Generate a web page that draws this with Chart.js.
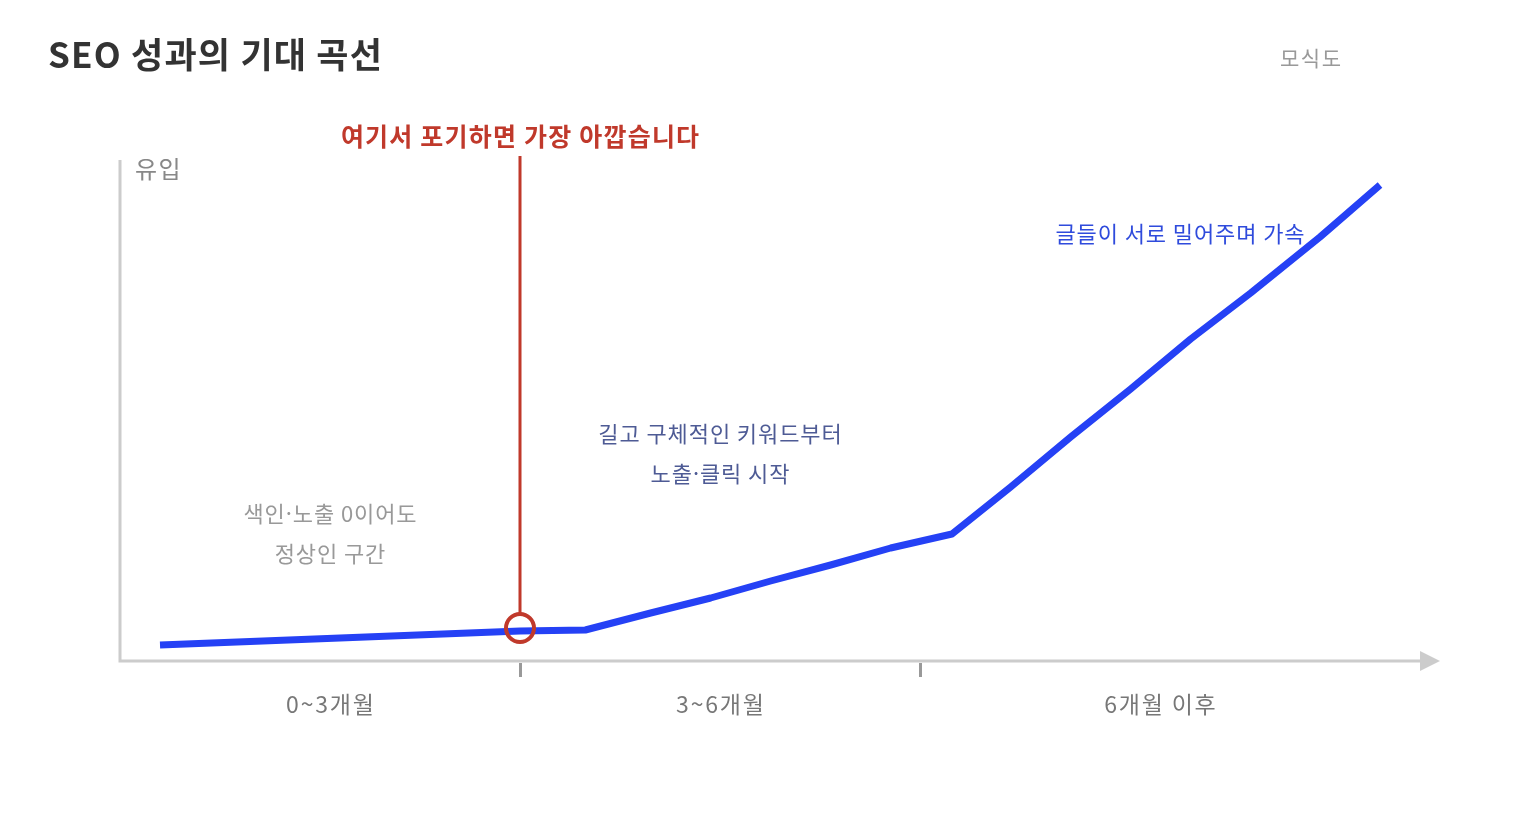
<!DOCTYPE html>
<html lang="ko">
<head>
<meta charset="utf-8">
<title>SEO 성과의 기대 곡선</title>
<script src="https://cdn.jsdelivr.net/npm/chart.js@4.4.1/dist/chart.umd.min.js"></script>
<style>
  html, body { margin: 0; padding: 0; background: #fff; }
  #wrap { position: relative; width: 1520px; height: 840px; }
</style>
</head>
<body>
<div id="wrap"><canvas id="chart" width="1520" height="840"></canvas></div>
<script>
// months since start (x) and relative inflow (y, 0-100)
const months = [0.3, 3.0, 3.49, 3.98, 4.43, 4.88, 5.33, 5.78, 6.24, 6.68, 7.13, 7.58, 8.03, 8.48, 9.0, 9.45];
const inflow = [3.2, 6.0, 6.2, 9.6, 12.6, 16.0, 19.2, 22.6, 25.4, 34.8, 44.8, 54.4, 64.4, 73.6, 84.8, 95.2];

const giveUpMonth = 3;
const giveUpInflow = 6.6;

const phaseLabels = ['0~3개월', '3~6개월', '6개월 이후'];
const phaseCenters = [1.575, 4.5, 7.8];
const phaseBounds = [3, 6];

const FONT = '"Noto Sans CJK KR", "Noto Sans", sans-serif';

function text(ctx, str, x, y, font, color, spacing) {
  ctx.font = font;
  ctx.fillStyle = color;
  ctx.letterSpacing = (spacing || 0) + 'px';
  const off = ctx.textAlign === 'center' ? (spacing || 0) / 2 : 0;
  ctx.fillText(str, x + off, y);
}

const overlay = {
  id: 'overlay',
  afterDraw(chart) {
    const ctx = chart.ctx;
    const x = chart.scales.x, y = chart.scales.y;
    const x0 = x.getPixelForValue(0), y0 = y.getPixelForValue(0);
    const right = chart.chartArea.right;
    ctx.save();

    // axes
    ctx.strokeStyle = '#cccccc';
    ctx.lineWidth = 3;
    ctx.beginPath();
    ctx.moveTo(x0, y.getPixelForValue(100) - 1);
    ctx.lineTo(x0, y0);
    ctx.lineTo(right - 18, y0);
    ctx.stroke();
    ctx.fillStyle = '#cccccc';
    ctx.beginPath();
    ctx.moveTo(right - 20, y0 - 10);
    ctx.lineTo(right, y0);
    ctx.lineTo(right - 20, y0 + 10);
    ctx.closePath();
    ctx.fill();

    // phase ticks
    ctx.strokeStyle = '#999999';
    phaseBounds.forEach(m => {
      const px = Math.round(x.getPixelForValue(m)) + 0.5;
      ctx.beginPath();
      ctx.moveTo(px, y0 + 2);
      ctx.lineTo(px, y0 + 16);
      ctx.stroke();
    });

    // phase labels
    ctx.textAlign = 'center';
    ctx.textBaseline = 'middle';
    phaseLabels.forEach((t, i) =>
      text(ctx, t, x.getPixelForValue(phaseCenters[i]), y0 + 43, '23px ' + FONT, '#777777', 1.8));

    // give-up line
    const gx = x.getPixelForValue(giveUpMonth);
    const gy = y.getPixelForValue(giveUpInflow);
    ctx.strokeStyle = '#c0392b';
    ctx.lineWidth = 3;
    ctx.beginPath();
    ctx.moveTo(gx, 156);
    ctx.lineTo(gx, gy - 15);
    ctx.stroke();
    text(ctx, '여기서 포기하면 가장 아깝습니다', gx, 136, 'bold 25px ' + FONT, '#c0392b', 1.2);

    // titles
    ctx.textAlign = 'left';
    text(ctx, 'SEO 성과의 기대 곡선', 48, 55, 'bold 35px ' + FONT, '#333333', 1.2);
    text(ctx, '모식도', 1280, 58, '21px ' + FONT, '#999999', 1.5);
    text(ctx, '유입', 135, 169, '24px ' + FONT, '#888888', 1.5);

    // notes
    ctx.textAlign = 'center';
    const nf = '22px ' + FONT;
    text(ctx, '색인·노출 0이어도', 330, 514, nf, '#999999', 0.9);
    text(ctx, '정상인 구간', 330, 554, nf, '#999999', 0.9);
    text(ctx, '길고 구체적인 키워드부터', 720, 434, nf, '#4e5b95', 0.9);
    text(ctx, '노출·클릭 시작', 720, 474, nf, '#4e5b95', 0.9);
    text(ctx, '글들이 서로 밀어주며 가속', 1180, 234, nf, '#2f4bdc', 0.9);

    ctx.restore();
  }
};

new Chart(document.getElementById('chart'), {
  type: 'line',
  data: {
    datasets: [
      {
        data: months.map((m, i) => ({ x: m, y: inflow[i] })),
        borderColor: '#2541f5',
        borderWidth: 7,
        pointRadius: 0,
        tension: 0,
        borderJoinStyle: 'round',
        order: 2
      },
      {
        data: [{ x: giveUpMonth, y: giveUpInflow }],
        showLine: false,
        pointRadius: 14,
        pointBorderWidth: 4,
        pointBorderColor: '#c0392b',
        pointBackgroundColor: 'rgba(0,0,0,0)',
        order: 1
      }
    ]
  },
  options: {
    responsive: false,
    animation: false,
    devicePixelRatio: 1,
    layout: { padding: { left: 120, right: 80, top: 161, bottom: 179 } },
    plugins: { legend: { display: false }, tooltip: { enabled: false } },
    scales: {
      x: { type: 'linear', min: 0, max: 9.9, display: false },
      y: { min: 0, max: 100, display: false }
    }
  },
  plugins: [overlay]
});
</script>
</body>
</html>
